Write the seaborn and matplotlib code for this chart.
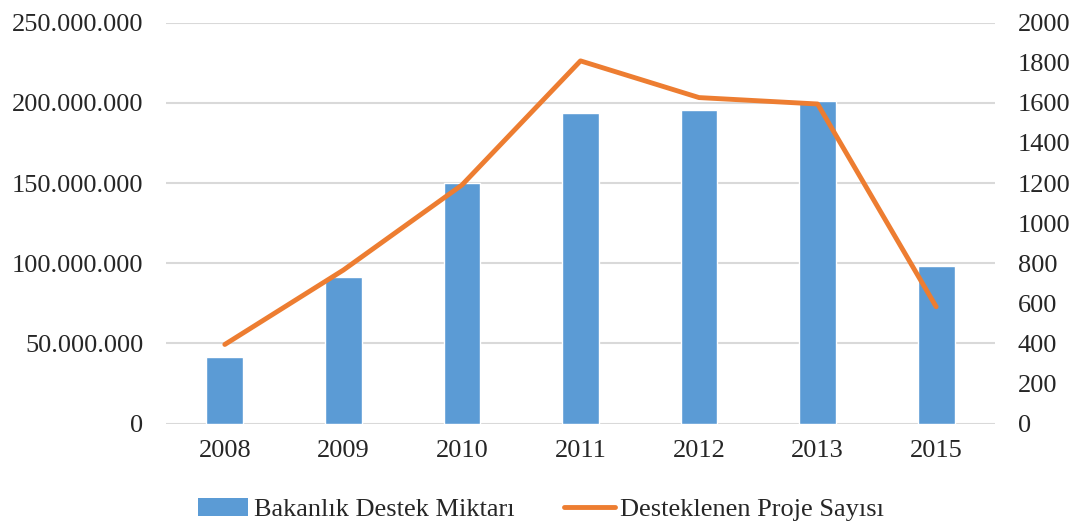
import numpy as np
import matplotlib
matplotlib.use("Agg")
import matplotlib.pyplot as plt
from matplotlib.ticker import FuncFormatter, MultipleLocator
from matplotlib.patches import Patch
from matplotlib.lines import Line2D
import seaborn as sns

# 데이터
years = ["2008", "2009", "2010", "2011", "2012", "2013", "2015"]
destek_miktari = [41_700_000, 91_400_000, 149_800_000, 193_500_000, 195_500_000, 201_000_000, 98_400_000]
proje_sayisi = [395, 766, 1190, 1809, 1626, 1594, 583]

BLUE = "#5B9BD5"
ORANGE = "#ED7D31"
GRID = "#D9D9D9"
FS = 19

sns.set_style("white")
plt.rcParams["font.family"] = ["Liberation Serif", "DejaVu Serif"]

fig, ax = plt.subplots(figsize=(10.82, 5.25), dpi=100)
fig.subplots_adjust(left=0.153, right=0.92, top=0.957, bottom=0.193)

sns.barplot(x=years, y=destek_miktari, color=BLUE, saturation=1, width=0.31, ax=ax, zorder=2)
ax.set_xlim(-0.5, len(years) - 0.5)
ax.set_ylim(0, 250_000_000)
ax.yaxis.set_major_locator(MultipleLocator(50_000_000))
ax.yaxis.set_major_formatter(FuncFormatter(lambda v, p: f"{int(v):,}".replace(",", ".")))
ax.grid(axis="y", color=GRID, linewidth=1.5, zorder=0)
ax.set_axisbelow(True)
ax.tick_params(axis="y", length=0, pad=16, labelsize=FS)
ax.tick_params(axis="x", length=0, pad=12, labelsize=FS)
ax.set_xlabel("")
ax.set_ylabel("")
for s in ax.spines.values():
    s.set_visible(False)

ax2 = ax.twinx()
sns.lineplot(x=np.arange(len(years)), y=proje_sayisi, color=ORANGE, linewidth=3.5, ax=ax2)
ax2.lines[0].set_solid_capstyle("round")
ax2.lines[0].set_solid_joinstyle("round")
ax2.set_ylim(0, 2000)
ax2.yaxis.set_major_locator(MultipleLocator(200))
ax2.tick_params(axis="y", length=0, pad=16, labelsize=FS)
ax2.set_ylabel("")
for s in ax2.spines.values():
    s.set_visible(False)

handles = [
    Patch(facecolor=BLUE, edgecolor="none"),
    Line2D([0], [0], color=ORANGE, linewidth=3.5, solid_capstyle="round"),
]
fig.legend(handles, ["Bakanlık Destek Miktarı", "Desteklenen Proje Sayısı"],
           loc="center", bbox_to_anchor=(0.5, 0.03), ncol=2, frameon=False,
           fontsize=FS, handlelength=1.9, handletextpad=0.2, columnspacing=1.9)

fig.savefig("out.png", dpi=100, facecolor="white")
